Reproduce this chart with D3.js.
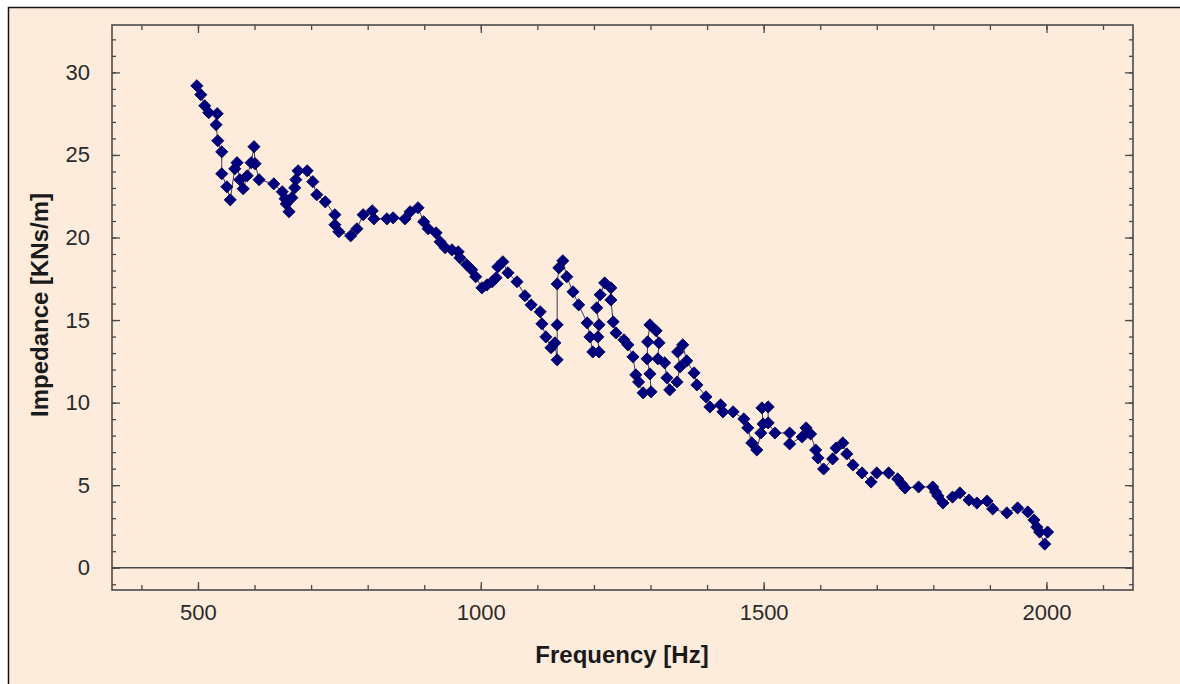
<!DOCTYPE html>
<html>
<head>
<meta charset="utf-8">
<script src="https://cdn.jsdelivr.net/npm/d3@7"></script>
<style>
  html, body { margin: 0; padding: 0; background: #ffffff; }
  svg { display: block; }
</style>
</head>
<body>
<svg id="chart" width="1180" height="684"></svg>
<script>
// ---- data ----
const frequency = [
  498, 505, 512, 519, 534, 532, 535, 542, 542, 551,
  557, 565, 569, 574, 580, 587, 594, 599, 601, 608,
  634, 649, 654, 656, 661, 666, 671, 673, 677, 693,
  703, 710, 725, 742, 742, 749, 770, 781, 792, 808,
  811, 834, 845, 866, 875, 889, 899, 907, 921, 928,
  937, 949, 960, 963, 975, 984, 991, 1002, 1011, 1020,
  1027, 1030, 1039, 1048, 1064, 1078, 1089, 1105, 1108, 1115,
  1124, 1131, 1135, 1135, 1135, 1138, 1145, 1152, 1163, 1173,
  1188, 1193, 1198, 1209, 1207, 1209, 1205, 1211, 1219, 1230,
  1230, 1234, 1239, 1253, 1260, 1269, 1274, 1279, 1287, 1301,
  1299, 1294, 1295, 1299, 1310, 1315, 1313, 1325, 1329, 1334,
  1347, 1352, 1348, 1357, 1364, 1377, 1382, 1398, 1405, 1424,
  1428, 1446, 1465, 1472, 1479, 1488, 1495, 1499, 1497, 1508,
  1508, 1520, 1546, 1546, 1568, 1575, 1583, 1592, 1596, 1606,
  1622, 1628, 1640, 1647, 1658, 1674, 1690, 1700, 1721, 1737,
  1744, 1750, 1774, 1799, 1804, 1808, 1817, 1834, 1847, 1863,
  1877, 1895, 1905, 1930, 1949, 1967, 1978, 1983, 1988, 1997,
  2002
];
const impedance = [
  29.19, 28.65, 27.98, 27.56, 27.50, 26.83, 25.86, 25.19, 23.86, 23.07,
  22.28, 24.16, 24.53, 23.50, 22.95, 23.74, 24.53, 25.50, 24.47, 23.50,
  23.25, 22.77, 22.35, 22.04, 21.56, 22.41, 23.01, 23.50, 24.04, 24.04,
  23.38, 22.59, 22.16, 21.38, 20.77, 20.35, 20.10, 20.53, 21.38, 21.62,
  21.13, 21.13, 21.19, 21.13, 21.56, 21.80, 20.95, 20.53, 20.28, 19.74,
  19.38, 19.25, 19.13, 18.77, 18.35, 18.04, 17.62, 16.95, 17.13, 17.32,
  17.56, 18.22, 18.53, 17.86, 17.32, 16.47, 15.92, 15.50, 14.77, 13.98,
  13.32, 13.62, 12.59, 14.71, 17.19, 18.16, 18.59, 17.62, 16.71, 15.92,
  14.83, 13.98, 13.07, 13.07, 13.98, 14.71, 15.74, 16.53, 17.25, 16.95,
  16.22, 14.89, 14.22, 13.80, 13.50, 12.77, 11.68, 11.25, 10.59, 10.65,
  11.74, 12.65, 13.68, 14.71, 14.35, 13.62, 12.65, 12.41, 11.50, 10.77,
  11.25, 12.16, 13.07, 13.50, 12.53, 11.80, 11.07, 10.35, 9.74, 9.86,
  9.44, 9.44, 9.01, 8.47, 7.56, 7.13, 8.16, 8.71, 9.68, 9.74,
  8.77, 8.16, 8.16, 7.50, 7.92, 8.47, 8.10, 7.13, 6.65, 5.98,
  6.59, 7.25, 7.56, 6.89, 6.22, 5.74, 5.19, 5.74, 5.74, 5.38,
  5.07, 4.83, 4.89, 4.89, 4.59, 4.35, 3.92, 4.28, 4.53, 4.10,
  3.92, 4.04, 3.56, 3.32, 3.62, 3.38, 2.89, 2.46, 2.16, 1.43,
  2.16
];
const xMajorTicks = [500, 1000, 1500, 2000];
const xMinorTicks = d3.range(400, 2101, 100);
const yMajorTicks = [0, 5, 10, 15, 20, 25, 30];
const yMinorTicks = d3.range(-1, 33, 1);
const xTitle = "Frequency [Hz]";
const yTitle = "Impedance [KNs/m]";

// ---- layout ----
const svg = d3.select("#chart");
const plot = { left: 112, right: 1133, top: 25, bottom: 590 };
const x = d3.scaleLinear().domain([348, 2153]).range([plot.left, plot.right]);
const y = d3.scaleLinear().domain([-1.35, 32.87]).range([plot.bottom, plot.top]);

const axisColor = "#4a4a4a";
const textColor = "#2a2a2a";
const font = "'Liberation Sans', Arial, sans-serif";

// outer panel
svg.append("rect")
  .attr("x", 8.5).attr("y", 7.5)
  .attr("width", 1200).attr("height", 700)
  .attr("fill", "#fdecdc")
  .attr("stroke", "#111").attr("stroke-width", 1.5);

function styleAxis(g) {
  g.select(".domain").remove();
  g.selectAll(".tick line").attr("stroke", axisColor).attr("stroke-width", 1.3);
  g.selectAll(".tick text").attr("fill", textColor)
    .style("font-family", font).style("font-size", "22px");
}

// bottom axis (minor + major)
svg.append("g").attr("transform", `translate(0,${plot.bottom})`)
  .call(d3.axisBottom(x).tickValues(xMinorTicks).tickSize(-5).tickFormat(""))
  .call(styleAxis);
svg.append("g").attr("transform", `translate(0,${plot.bottom})`)
  .call(d3.axisBottom(x).tickValues(xMajorTicks).tickSize(-8).tickPadding(14).tickFormat(d3.format("d")))
  .call(styleAxis);
// top axis
svg.append("g").attr("transform", `translate(0,${plot.top})`)
  .call(d3.axisTop(x).tickValues(xMinorTicks).tickSize(-5).tickFormat(""))
  .call(styleAxis);
svg.append("g").attr("transform", `translate(0,${plot.top})`)
  .call(d3.axisTop(x).tickValues(xMajorTicks).tickSize(-8).tickFormat(""))
  .call(styleAxis);
// left axis
svg.append("g").attr("transform", `translate(${plot.left},0)`)
  .call(d3.axisLeft(y).tickValues(yMinorTicks).tickSize(-4).tickFormat(""))
  .call(styleAxis);
svg.append("g").attr("transform", `translate(${plot.left},0)`)
  .call(d3.axisLeft(y).tickValues(yMajorTicks).tickSize(-8).tickPadding(22).tickFormat(d3.format("d")))
  .call(styleAxis);
// right axis
svg.append("g").attr("transform", `translate(${plot.right},0)`)
  .call(d3.axisRight(y).tickValues(yMinorTicks).tickSize(-4).tickFormat(""))
  .call(styleAxis);
svg.append("g").attr("transform", `translate(${plot.right},0)`)
  .call(d3.axisRight(y).tickValues(yMajorTicks).tickSize(-8).tickFormat(""))
  .call(styleAxis);

// plot frame
svg.append("rect")
  .attr("x", plot.left).attr("y", plot.top)
  .attr("width", plot.right - plot.left).attr("height", plot.bottom - plot.top)
  .attr("fill", "none").attr("stroke", axisColor).attr("stroke-width", 1.6);

// zero line
svg.append("line")
  .attr("x1", plot.left).attr("x2", plot.right)
  .attr("y1", y(0)).attr("y2", y(0))
  .attr("stroke", axisColor).attr("stroke-width", 1.5);

// data
const data = frequency.map((f, i) => ({ f, v: impedance[i] }));

svg.append("path")
  .datum(data)
  .attr("fill", "none")
  .attr("stroke", "#3a3a5a")
  .attr("stroke-width", 1)
  .attr("d", d3.line().x(d => x(d.f)).y(d => y(d.v)));

const diamond = d3.symbol().type(d3.symbolSquare).size(74);
svg.append("g").selectAll("path")
  .data(data)
  .join("path")
  .attr("d", diamond)
  .attr("transform", d => `translate(${x(d.f)},${y(d.v)}) rotate(45)`)
  .attr("fill", "#00007e")
  .attr("stroke", "#000050")
  .attr("stroke-width", 0.8);

// axis titles
svg.append("text")
  .attr("x", 622)
  .attr("y", 663)
  .attr("text-anchor", "middle")
  .attr("fill", "#1a1a1a")
  .style("font-family", font).style("font-size", "24px").style("font-weight", "bold")
  .text(xTitle);

svg.append("text")
  .attr("transform", `translate(48,305) rotate(-90)`)
  .attr("text-anchor", "middle")
  .attr("fill", "#1a1a1a")
  .style("font-family", font).style("font-size", "24px").style("font-weight", "bold")
  .text(yTitle);
</script>
</body>
</html>
